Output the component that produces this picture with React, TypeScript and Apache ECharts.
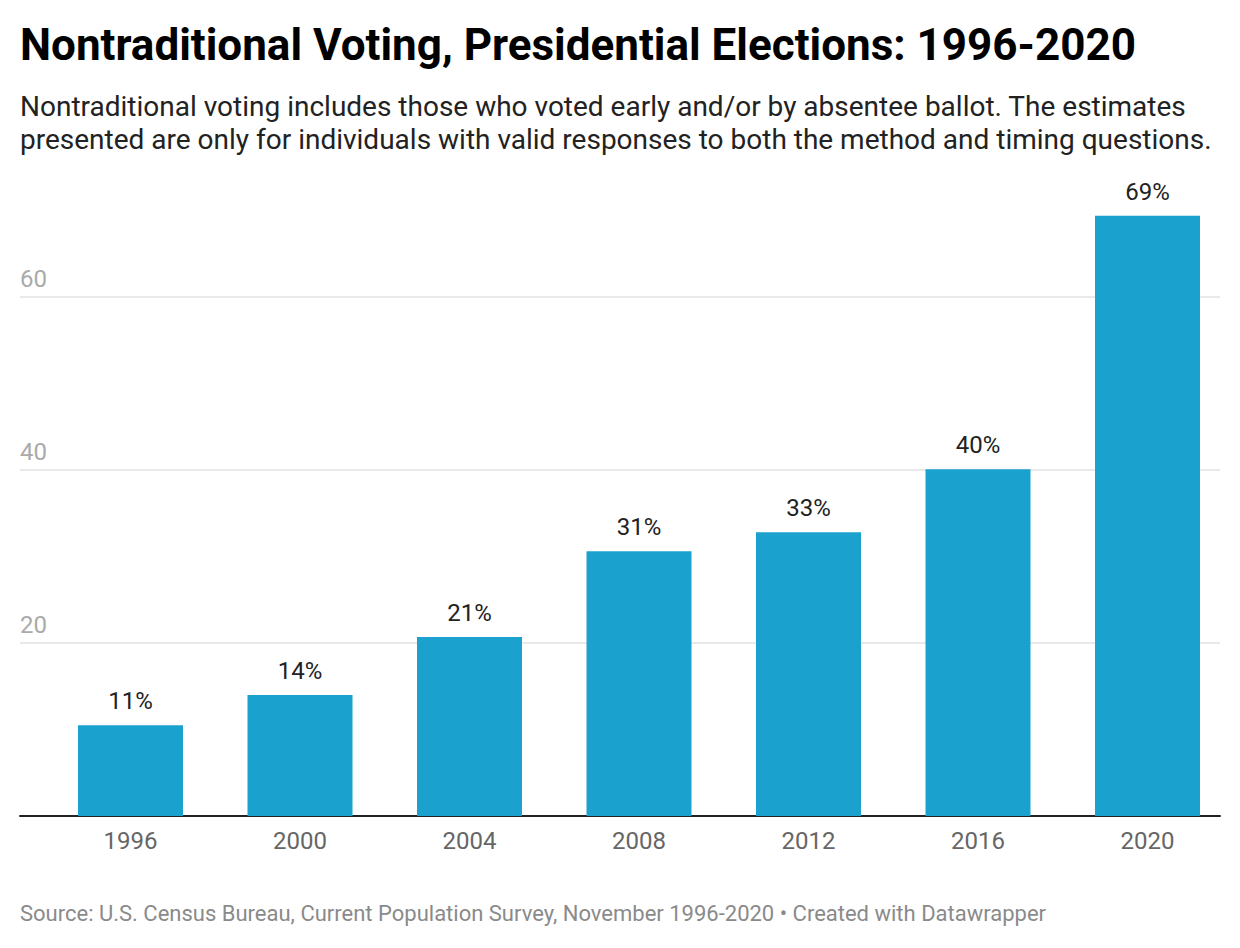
import React, { useEffect, useRef } from "react";
import * as echarts from "echarts";

const categories = ["1996", "2000", "2004", "2008", "2012", "2016", "2020"];
const values = [10.5, 14.0, 20.7, 30.6, 32.8, 40.1, 69.4];
const yTicks = [0, 20, 40, 60];

const TITLE = "Nontraditional Voting, Presidential Elections: 1996-2020";
const SUBTITLE =
  "Nontraditional voting includes those who voted early and/or by absentee ballot. The estimates\npresented are only for individuals with valid responses to both the method and timing questions.";
const SOURCE =
  "Source: U.S. Census Bureau, Current Population Survey, November 1996-2020 • Created with Datawrapper";

const FONT = "Roboto";

export default function App() {
  const ref = useRef<HTMLDivElement>(null);
  useEffect(() => {
    const chart = echarts.init(ref.current!, null, { renderer: "svg" });
    const baseY = 816;
    const pxPerUnit = 8.65;
    const gridMax = yTicks[yTicks.length - 1];
    chart.setOption({
      animation: false,
      backgroundColor: "#ffffff",
      textStyle: { fontFamily: FONT },
      title: [
        {
          text: TITLE,
          left: 20,
          top: 23,
          padding: 0,
          textStyle: { fontFamily: FONT, fontSize: 44, fontWeight: "bold", color: "#000" },
        },
        {
          text: SUBTITLE,
          left: 20,
          top: 90,
          padding: 0,
          textStyle: { fontFamily: FONT, fontSize: 28, fontWeight: "normal", color: "#222", lineHeight: 33 },
        },
        {
          text: SOURCE,
          left: 20,
          top: 902,
          padding: 0,
          textStyle: { fontFamily: FONT, fontSize: 22, fontWeight: "normal", color: "#8a8a8a" },
        },
      ],
      grid: [
        { left: 20, right: 20, top: baseY - gridMax * pxPerUnit, bottom: 948 - baseY },
        { left: 45.75, width: 1186.5, top: baseY - 70 * pxPerUnit, bottom: 948 - baseY },
      ],
      xAxis: [
        {
          gridIndex: 0,
          type: "value",
          min: 0,
          max: 1,
          axisLine: { show: true, lineStyle: { color: "#222", width: 2 } },
          axisTick: { show: false },
          axisLabel: { show: false },
          splitLine: { show: false },
        },
        {
          gridIndex: 1,
          type: "category",
          data: categories,
          axisLine: { show: false },
          axisTick: { show: false },
          axisLabel: { color: "#666", fontSize: 24, fontFamily: FONT, margin: 13 },
        },
      ],
      yAxis: [
        {
          gridIndex: 0,
          type: "value",
          min: 0,
          max: gridMax,
          interval: 20,
          axisLine: { show: false },
          axisTick: { show: false },
          splitLine: { show: true, lineStyle: { color: "#e2e2e2", width: 1.5 } },
          axisLabel: {
            inside: true,
            showMinLabel: false,
            margin: 0,
            verticalAlign: "bottom",
            padding: [0, 0, 6, 0],
            color: "#aaa",
            fontSize: 24,
            fontFamily: FONT,
          },
        },
        {
          gridIndex: 1,
          type: "value",
          min: 0,
          max: 70,
          show: false,
          splitLine: { show: false },
        },
      ],
      series: [
        {
          type: "bar",
          xAxisIndex: 1,
          yAxisIndex: 1,
          data: values,
          barWidth: 105,
          itemStyle: { color: "#1aa1cd" },
          label: {
            show: true,
            position: "top",
            distance: 12,
            color: "#222",
            fontSize: 24,
            fontFamily: FONT,
            formatter: (p: any) => Math.round(p.value) + "%",
          },
        },
      ],
    });
    return () => chart.dispose();
  }, []);
  return <div ref={ref} style={{ width: 1240, height: 948, position: "absolute", left: 0, top: 0 }} />;
}
